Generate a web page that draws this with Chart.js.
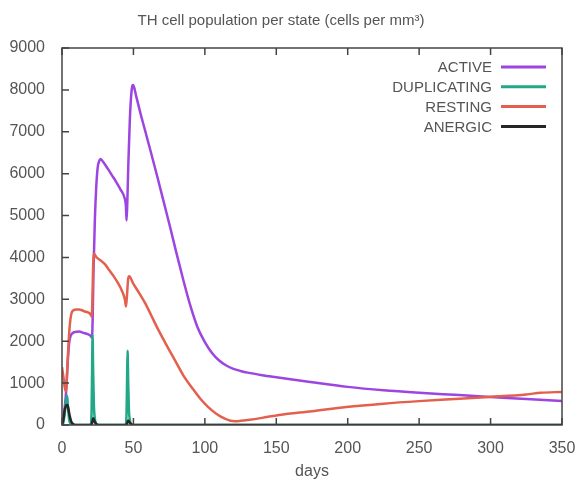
<!DOCTYPE html>
<html>
<head>
<meta charset="utf-8">
<script src="https://cdn.jsdelivr.net/npm/chart.js@4/dist/chart.umd.min.js"></script>
<style>
  html, body { margin: 0; padding: 0; background: #fff; }
  #wrap { width: 582px; height: 487px; }
</style>
</head>
<body>
<div id="wrap"><canvas id="chart" width="582" height="487"></canvas></div>
<script>
// TH cell counts per state, sampled in days
const activeDays = [0, 1, 2, 3, 4, 5, 6, 7, 9, 12, 15, 18, 20, 21, 21.5, 22, 23, 24, 25, 26, 27, 29, 32, 35, 38, 41, 44, 44.7, 45.2, 45.7, 46.5, 47.5, 48.5, 49.3, 49.8, 50.5, 52, 55, 58, 62, 67, 72, 76, 80, 85, 90, 95, 100, 105, 110, 115, 120, 125, 130, 140, 150, 175, 200, 225, 250, 275, 300, 325, 350];
const activeValues = [0, 150, 450, 850, 1500, 1950, 2120, 2180, 2220, 2230, 2200, 2170, 2130, 2080, 2600, 3600, 4900, 5700, 6150, 6300, 6350, 6270, 6120, 5960, 5800, 5620, 5400, 5250, 4880, 5300, 6300, 7300, 7900, 8100, 8115, 8060, 7840, 7430, 7050, 6540, 5890, 5220, 4680, 4120, 3450, 2830, 2320, 1980, 1720, 1540, 1420, 1340, 1290, 1250, 1190, 1140, 1020, 910, 830, 770, 720, 670, 620, 570];

const duplicatingDays = [0, 1, 2, 3, 3.6, 4.2, 5, 6, 8, 20, 20.7, 21.1, 21.4, 21.8, 22.3, 23, 24, 26, 44.5, 45.2, 45.6, 45.9, 46.3, 46.8, 47.5, 48.5, 50, 350];
const duplicatingValues = [0, 60, 300, 620, 700, 420, 130, 30, 0, 0, 300, 1400, 2150, 1300, 500, 150, 30, 0, 0, 300, 1200, 1770, 1100, 400, 120, 20, 0, 0];

const restingDays = [0, 1, 2, 2.8, 3.5, 4.5, 5.5, 6.5, 8, 10, 12, 14, 16, 18, 20, 20.8, 21.3, 21.8, 22.5, 24, 27, 30, 33, 36, 39, 42, 44, 44.8, 45.5, 46.3, 47, 50, 54, 58, 62, 67, 72, 79, 85, 91, 97, 102, 108, 114, 118, 121, 125, 130, 140, 152, 175, 199, 225, 250, 275, 299, 325, 335, 350];
const restingValues = [1380, 1150, 880, 800, 1200, 1900, 2400, 2650, 2740, 2760, 2760, 2740, 2710, 2690, 2640, 2590, 3000, 3800, 4080, 4010, 3930, 3840, 3700, 3560, 3400, 3200, 3000, 2830, 3100, 3480, 3550, 3370, 3150, 2920, 2650, 2300, 1980, 1550, 1180, 890, 620, 440, 270, 150, 100, 90, 100, 120, 170, 240, 330, 430, 510, 570, 620, 670, 730, 770, 790];

const anergicDays = [0, 1, 2, 3, 3.8, 4.5, 5.5, 6.5, 8, 10, 20.5, 21.3, 21.8, 22.5, 23.5, 25, 45, 45.8, 46.4, 47.2, 48.5, 50, 350];
const anergicValues = [0, 150, 380, 470, 480, 380, 200, 80, 20, 0, 0, 80, 160, 110, 40, 0, 0, 60, 110, 70, 20, 0, 0];

const xTicks = [0, 50, 100, 150, 200, 250, 300, 350];
const yTicks = [0, 1000, 2000, 3000, 4000, 5000, 6000, 7000, 8000, 9000];

const seriesNames = ["ACTIVE", "DUPLICATING", "RESTING", "ANERGIC"];
const seriesColors = ["#9d45e0", "#22a888", "#e4604e", "#262626"];

const FONT = "'Liberation Sans', Arial, sans-serif";
const TEXT = "#555555";

function points(days, values) {
  return days.map((d, i) => ({x: d, y: values[i]}));
}

// gnuplot style frame: border box with tics pointing inwards, key in the top right corner
const framePlugin = {
  id: "frame",
  afterDatasetsDraw(chart) {
    const {ctx, chartArea: a, scales} = chart;
    ctx.save();
    ctx.strokeStyle = "#444";
    ctx.lineWidth = 1.5;
    ctx.strokeRect(a.left, a.top, a.right - a.left, a.bottom - a.top);
    ctx.beginPath();
    for (const v of xTicks) {
      const px = scales.x.getPixelForValue(v);
      ctx.moveTo(px, a.bottom);
      ctx.lineTo(px, a.bottom - 7);
      ctx.moveTo(px, a.top);
      ctx.lineTo(px, a.top + 7);
    }
    for (const v of yTicks) {
      const py = scales.y.getPixelForValue(v);
      ctx.moveTo(a.left, py);
      ctx.lineTo(a.left + 7, py);
    }
    ctx.stroke();

    ctx.font = "15px " + FONT;
    ctx.fillStyle = TEXT;
    ctx.textAlign = "right";
    ctx.textBaseline = "middle";
    ctx.lineWidth = 3;
    seriesNames.forEach((name, i) => {
      const y = 67 + i * 19.8;
      ctx.fillText(name, a.right - 70, y + 1);
      ctx.strokeStyle = seriesColors[i];
      ctx.beginPath();
      ctx.moveTo(a.right - 61, y);
      ctx.lineTo(a.right - 16, y);
      ctx.stroke();
    });
    ctx.restore();
  }
};

const seriesData = [
  points(activeDays, activeValues),
  points(duplicatingDays, duplicatingValues),
  points(restingDays, restingValues),
  points(anergicDays, anergicValues)
];

new Chart(document.getElementById("chart").getContext("2d"), {
  type: "line",
  data: {
    datasets: seriesNames.map((name, i) => ({
      label: name,
      data: seriesData[i],
      borderColor: seriesColors[i],
      borderWidth: 2.5,
      pointRadius: 0,
      fill: false,
      cubicInterpolationMode: "monotone",
      order: seriesNames.length - i
    }))
  },
  options: {
    responsive: false,
    animation: false,
    layout: {padding: {left: 0, right: 20, top: 0, bottom: 0}},
    plugins: {
      legend: {display: false},
      tooltip: {enabled: false},
      title: {
        display: true,
        text: "TH cell population per state (cells per mm³)",
        color: TEXT,
        font: {family: FONT, size: 15, weight: "normal"},
        padding: {top: 12, bottom: 18}
      }
    },
    scales: {
      x: {
        type: "linear",
        min: 0,
        max: 350,
        afterFit: (s) => { s.height = 62; },
        afterBuildTicks: (s) => { s.ticks = xTicks.map(v => ({value: v})); },
        grid: {display: false},
        border: {display: false},
        ticks: {color: TEXT, padding: 6, maxRotation: 0, font: {family: FONT, size: 16}},
        title: {display: true, text: "days", color: TEXT, padding: {top: 0, bottom: 6}, font: {family: FONT, size: 16}}
      },
      y: {
        min: 0,
        max: 9000,
        afterFit: (s) => { s.width = 62; },
        afterBuildTicks: (s) => { s.ticks = yTicks.map(v => ({value: v})); },
        grid: {display: false},
        border: {display: false},
        ticks: {color: TEXT, padding: 9, font: {family: FONT, size: 16}, callback: (v) => String(v)}
      }
    }
  },
  plugins: [framePlugin]
});
</script>
</body>
</html>
